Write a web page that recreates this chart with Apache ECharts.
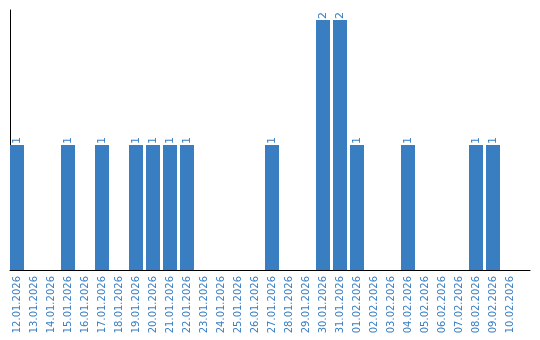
<!DOCTYPE html>
<html><head><meta charset="utf-8">
<script src="https://cdn.jsdelivr.net/npm/echarts@6/dist/echarts.min.js"></script>
<style>html,body{margin:0;padding:0;background:#fff}#c{width:540px;height:340px}</style>
</head><body><div id="c"></div>
<script>
const categories = ["12.01.2026","13.01.2026","14.01.2026","15.01.2026","16.01.2026","17.01.2026","18.01.2026","19.01.2026","20.01.2026","21.01.2026","22.01.2026","23.01.2026","24.01.2026","25.01.2026","26.01.2026","27.01.2026","28.01.2026","29.01.2026","30.01.2026","31.01.2026","01.02.2026","02.02.2026","03.02.2026","04.02.2026","05.02.2026","06.02.2026","07.02.2026","08.02.2026","09.02.2026","10.02.2026"];
const values = [1,0,0,1,0,1,0,1,1,1,1,0,0,0,0,1,0,0,2,2,1,0,0,1,0,0,0,1,1,0];
const blue = '#3a7ec2';
const chart = echarts.init(document.getElementById('c'));
chart.setOption({
  animation: false,
  grid: [
    {left: 8.5, top: 10, width: 510, height: 260},
    {left: 10, top: 10, right: 10, height: 260}
  ],
  xAxis: [
    {type: 'category', data: categories, gridIndex: 0, boundaryGap: true,
     axisLine: {show: false}, axisTick: {show: false},
     axisLabel: {interval: 0, rotate: 90, color: blue, fontFamily: 'DejaVu Sans', fontSize: 10, margin: 6}},
    {type: 'value', gridIndex: 1, min: 0, max: 1, axisLine: {show: true, lineStyle: {color: '#000', width: 1}},
     axisTick: {show: false}, axisLabel: {show: false}, splitLine: {show: false}}
  ],
  yAxis: [
    {type: 'value', gridIndex: 0, min: 0, max: 2.08, offset: -1.5,
     axisLine: {show: true, lineStyle: {color: '#000', width: 1}},
     axisTick: {show: false}, axisLabel: {show: false}, splitLine: {show: false}},
    {type: 'value', gridIndex: 1, show: false}
  ],
  series: [{
    type: 'bar', data: values, xAxisIndex: 0, yAxisIndex: 0, barWidth: 14,
    itemStyle: {color: blue},
    label: {show: true, position: 'top', rotate: 90, align: 'left', verticalAlign: 'middle',
      distance: 1, color: blue, fontFamily: 'DejaVu Sans', fontSize: 11,
      formatter: p => p.value > 0 ? String(p.value) : ''}
  }]
});
</script></body></html>
